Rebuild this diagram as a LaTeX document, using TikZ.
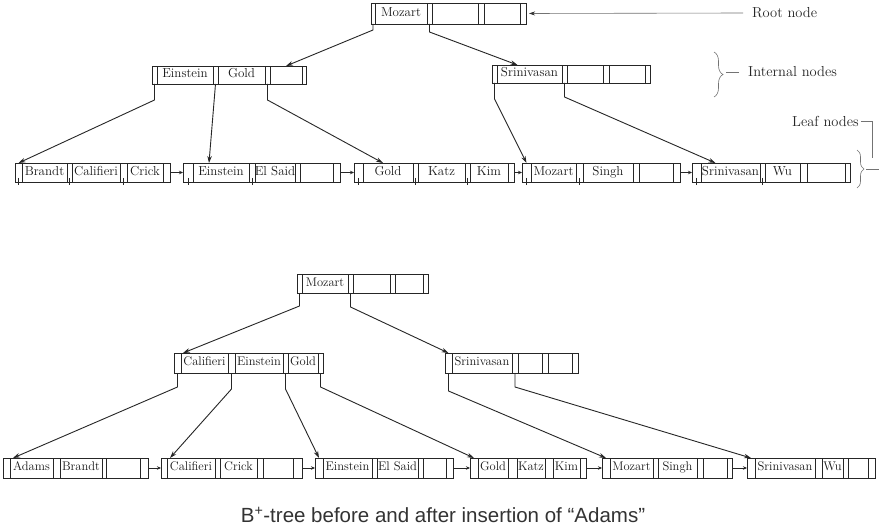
\documentclass[tikz,border=0pt]{standalone}
\usepackage{fontspec}
\newfontfamily\capfont{Liberation Sans}
\usetikzlibrary{arrows.meta,decorations.pathreplacing}
\tikzset{
 slot/.style={draw=black!85, line width=0.9pt, inner sep=0pt, outer sep=0pt, anchor=north west, text=black!90},
 topfont/.style={font=\fontsize{13}{13}\selectfont},
 botfont/.style={font=\fontsize{12.5}{12.5}\selectfont},
 ptr/.style={draw=black!85, line width=0.9pt, -{Stealth[length=7pt,width=4.5pt]}},
 sib/.style={draw=black!85, line width=0.9pt, -{Stealth[length=4pt,width=3.5pt]}},
 tick/.style={draw=black!85, line width=0.7pt},
 note/.style={font=\fontsize{14.5}{14.5}\selectfont, inner sep=0pt, text=black!85},
 lead/.style={draw=black!55, line width=0.6pt},
}
\newcommand\bptnode[5][]{%
  \foreach \a/\b/\txt [count=\i] in {#5}{%
    \pgfmathsetmacro\w{\b-\a}%
    \node[slot,#1, minimum width=\w pt, minimum height=#4 pt] (#2-\i) at (\a,#3) {\makebox[0pt]{\strut\txt}};
  }}
\begin{document}
\begin{tikzpicture}[x=1pt,y=-1pt]
\useasboundingbox (0,0) rectangle (884,532);
\fill[white] (0,0) rectangle (884,532);
% ---------- top tree ----------
\bptnode[topfont]{r}{3}{21}{371/375/, 375/427/Mozart, 427/432/, 432/478/, 478/484/, 484/520/, 520/526/}
\bptnode[topfont]{i1}{66}{18}{152/157/, 157/213/Einstein, 213/218/, 218/265/Gold, 265/270/, 270/302/, 302/306/}
\bptnode[topfont]{i2}{65}{18}{492/497/, 497/562/Srinivasan, 562/567/, 567/603/, 603/609/, 609/645/, 645/650/}
\bptnode[topfont]{L1}{163}{19}{15/22/, 22/67/Brandt, 67/72/, 72/120/Califieri, 120/127/, 127/163/Crick, 163/170/}
\bptnode[topfont]{L2}{163}{19}{183/193/, 193/249/Einstein, 249/255/, 255/295/El Said, 295/300/, 300/333/, 333/340/}
\bptnode[topfont]{L3}{163}{19}{354/363/, 363/413/Gold, 413/418/, 418/465/Katz, 465/470/, 470/508/Kim, 508/514/}
\bptnode[topfont]{L4}{163}{19}{522/531/, 531/576/Mozart, 576/583/, 583/633/Singh, 633/639/, 639/673/, 673/680/}
\bptnode[topfont]{L5}{163}{19}{692/701/, 701/760/Srinivasan, 760/765/, 765/800/Wu, 800/807/, 807/845/, 845/850/}
\foreach \n in {L1-1,L1-3,L1-5,L2-1,L2-3,L3-1,L3-3,L3-5,L4-1,L4-3,L5-1,L5-3}
  \draw[tick] ([yshift=4pt]\n.south) -- ([yshift=-3pt]\n.south);
\draw[sib] (L1-7.east) -- (L2-1.west);
\draw[sib] (L2-7.east) -- (L3-1.west);
\draw[sib] (L3-7.east) -- (L4-1.west);
\draw[sib] (L4-7.east) -- (L5-1.west);
\draw[ptr] (r-1.south) -- ++(0,6) -- (i1-6.north);
\draw[ptr] (r-3.south) -- ++(0,8) -- ([xshift=-12pt]i2-2.north);
\draw[ptr] (i1-1.south) -- ++(0,16) -- (L1-1.north);
\draw[ptr] (i1-3.south) -- ([xshift=-12pt]L2-2.north);
\draw[ptr] (i1-5.south) -- ++(0,16) -- ([xshift=-5pt]L3-2.north);
\draw[ptr] (i2-1.south) -- ++(0,16) -- (L4-1.north);
\draw[ptr] (i2-3.south) -- ++(0,14) -- ([xshift=-15pt]L5-2.north);
% ---------- annotations ----------
\node[note, anchor=west] (rootlbl) at (752,13) {Root node};
\draw[lead, -{Stealth[length=6pt,width=4pt,color=black!80]}] ([xshift=-9pt]rootlbl.west) -- ([xshift=3pt]r-7.east);
\node[note, anchor=west] (intlbl) at (748,72) {Internal nodes};
\coordinate (ib1) at (714,52);
\coordinate (ib2) at (714,97);
\draw[lead, decorate, decoration={brace, amplitude=9pt}] (ib1) -- (ib2);
\draw[lead] ([xshift=-9pt]intlbl.west) -- ++(-13,0);
\node[note, anchor=west] (leaflbl) at (792,121) {Leaf nodes};
\coordinate (lb1) at (857,150);
\coordinate (lb2) at (857,188);
\coordinate (lbtip) at (866,169);
\coordinate (lbend) at (879,169);
\coordinate (lbdown) at (872,158);
\draw[lead, decorate, decoration={brace, amplitude=7pt}] (lb1) -- (lb2);
\draw[lead] ([xshift=2pt]leaflbl.east) -| (lbdown);
\draw[lead] (lbtip) -- (lbend);
% ---------- bottom tree ----------
\bptnode[botfont]{br}{274}{19}{297/302/, 302/348/Mozart, 348/353/, 353/390/, 390/395/, 395/423/, 423/428/}
\bptnode[botfont]{bi1}{353}{20}{174/181/, 181/228/Califieri, 228/235/, 235/283/Einstein, 283/288/, 288/318/Gold, 318/323/}
\bptnode[botfont]{bi2}{353}{20}{445/452/, 452/512/Srinivasan, 512/518/, 518/542/, 542/548/, 548/572/, 572/578/}
\bptnode[botfont]{B1}{458}{20}{3/10/, 10/53/Adams, 53/60/, 60/102/Brandt, 102/106/, 106/140/, 140/148/}
\bptnode[botfont]{B2}{458}{20}{161/167/, 167/215/Califieri, 215/220/, 220/257/Crick, 257/263/, 263/293/, 293/302/}
\bptnode[botfont]{B3}{458}{20}{315/323/, 323/372/Einstein, 372/377/, 377/418/El Said, 418/423/, 423/446/, 446/453/}
\bptnode[botfont]{B4}{458}{20}{470/478/, 478/508/Gold, 508/517/, 517/545/Katz, 545/553/, 553/580/Kim, 580/586/}
\bptnode[botfont]{B5}{458}{20}{602/610/, 610/653/Mozart, 653/658/, 658/697/Singh, 697/703/, 703/727/, 727/732/}
\bptnode[botfont]{B6}{458}{20}{747/755/, 755/815/Srinivasan, 815/822/, 822/843/Wu, 843/848/, 848/868/, 868/875/}
\draw[sib] (B1-7.east) -- (B2-1.west);
\draw[sib] (B2-7.east) -- (B3-1.west);
\draw[sib] (B3-7.east) -- (B4-1.west);
\draw[sib] (B4-7.east) -- (B5-1.west);
\draw[sib] (B5-7.east) -- (B6-1.west);
\draw[ptr] (br-1.south) -- ++(0,13) -- ([xshift=2pt]bi1-1.north east);
\draw[ptr] (br-3.south) -- ++(0,14) -- (bi2-1.north);
\draw[ptr] (bi1-1.south) -- ++(0,14) -- ([xshift=3pt]B1-2.north west);
\draw[ptr] (bi1-3.south) -- ++(0,16) -- ([xshift=3pt]B2-2.north west);
\draw[ptr] (bi1-5.south) -- ++(0,16) -- (B3-1.north);
\draw[ptr] (bi1-7.south) -- ++(0,14) -- (B4-1.north);
\draw[ptr] (bi2-1.south) -- ++(0,18) -- (B5-1.north);
\draw[ptr] (bi2-3.south) -- ++(0,14) -- (B6-1.north);
% ---------- caption ----------
\node[font=\capfont\fontsize{20.5}{22}\selectfont, text=black!80] (cap) at (443,515) {B\textsuperscript{+}-tree before and after insertion of “Adams”};
\end{tikzpicture}
\end{document}
